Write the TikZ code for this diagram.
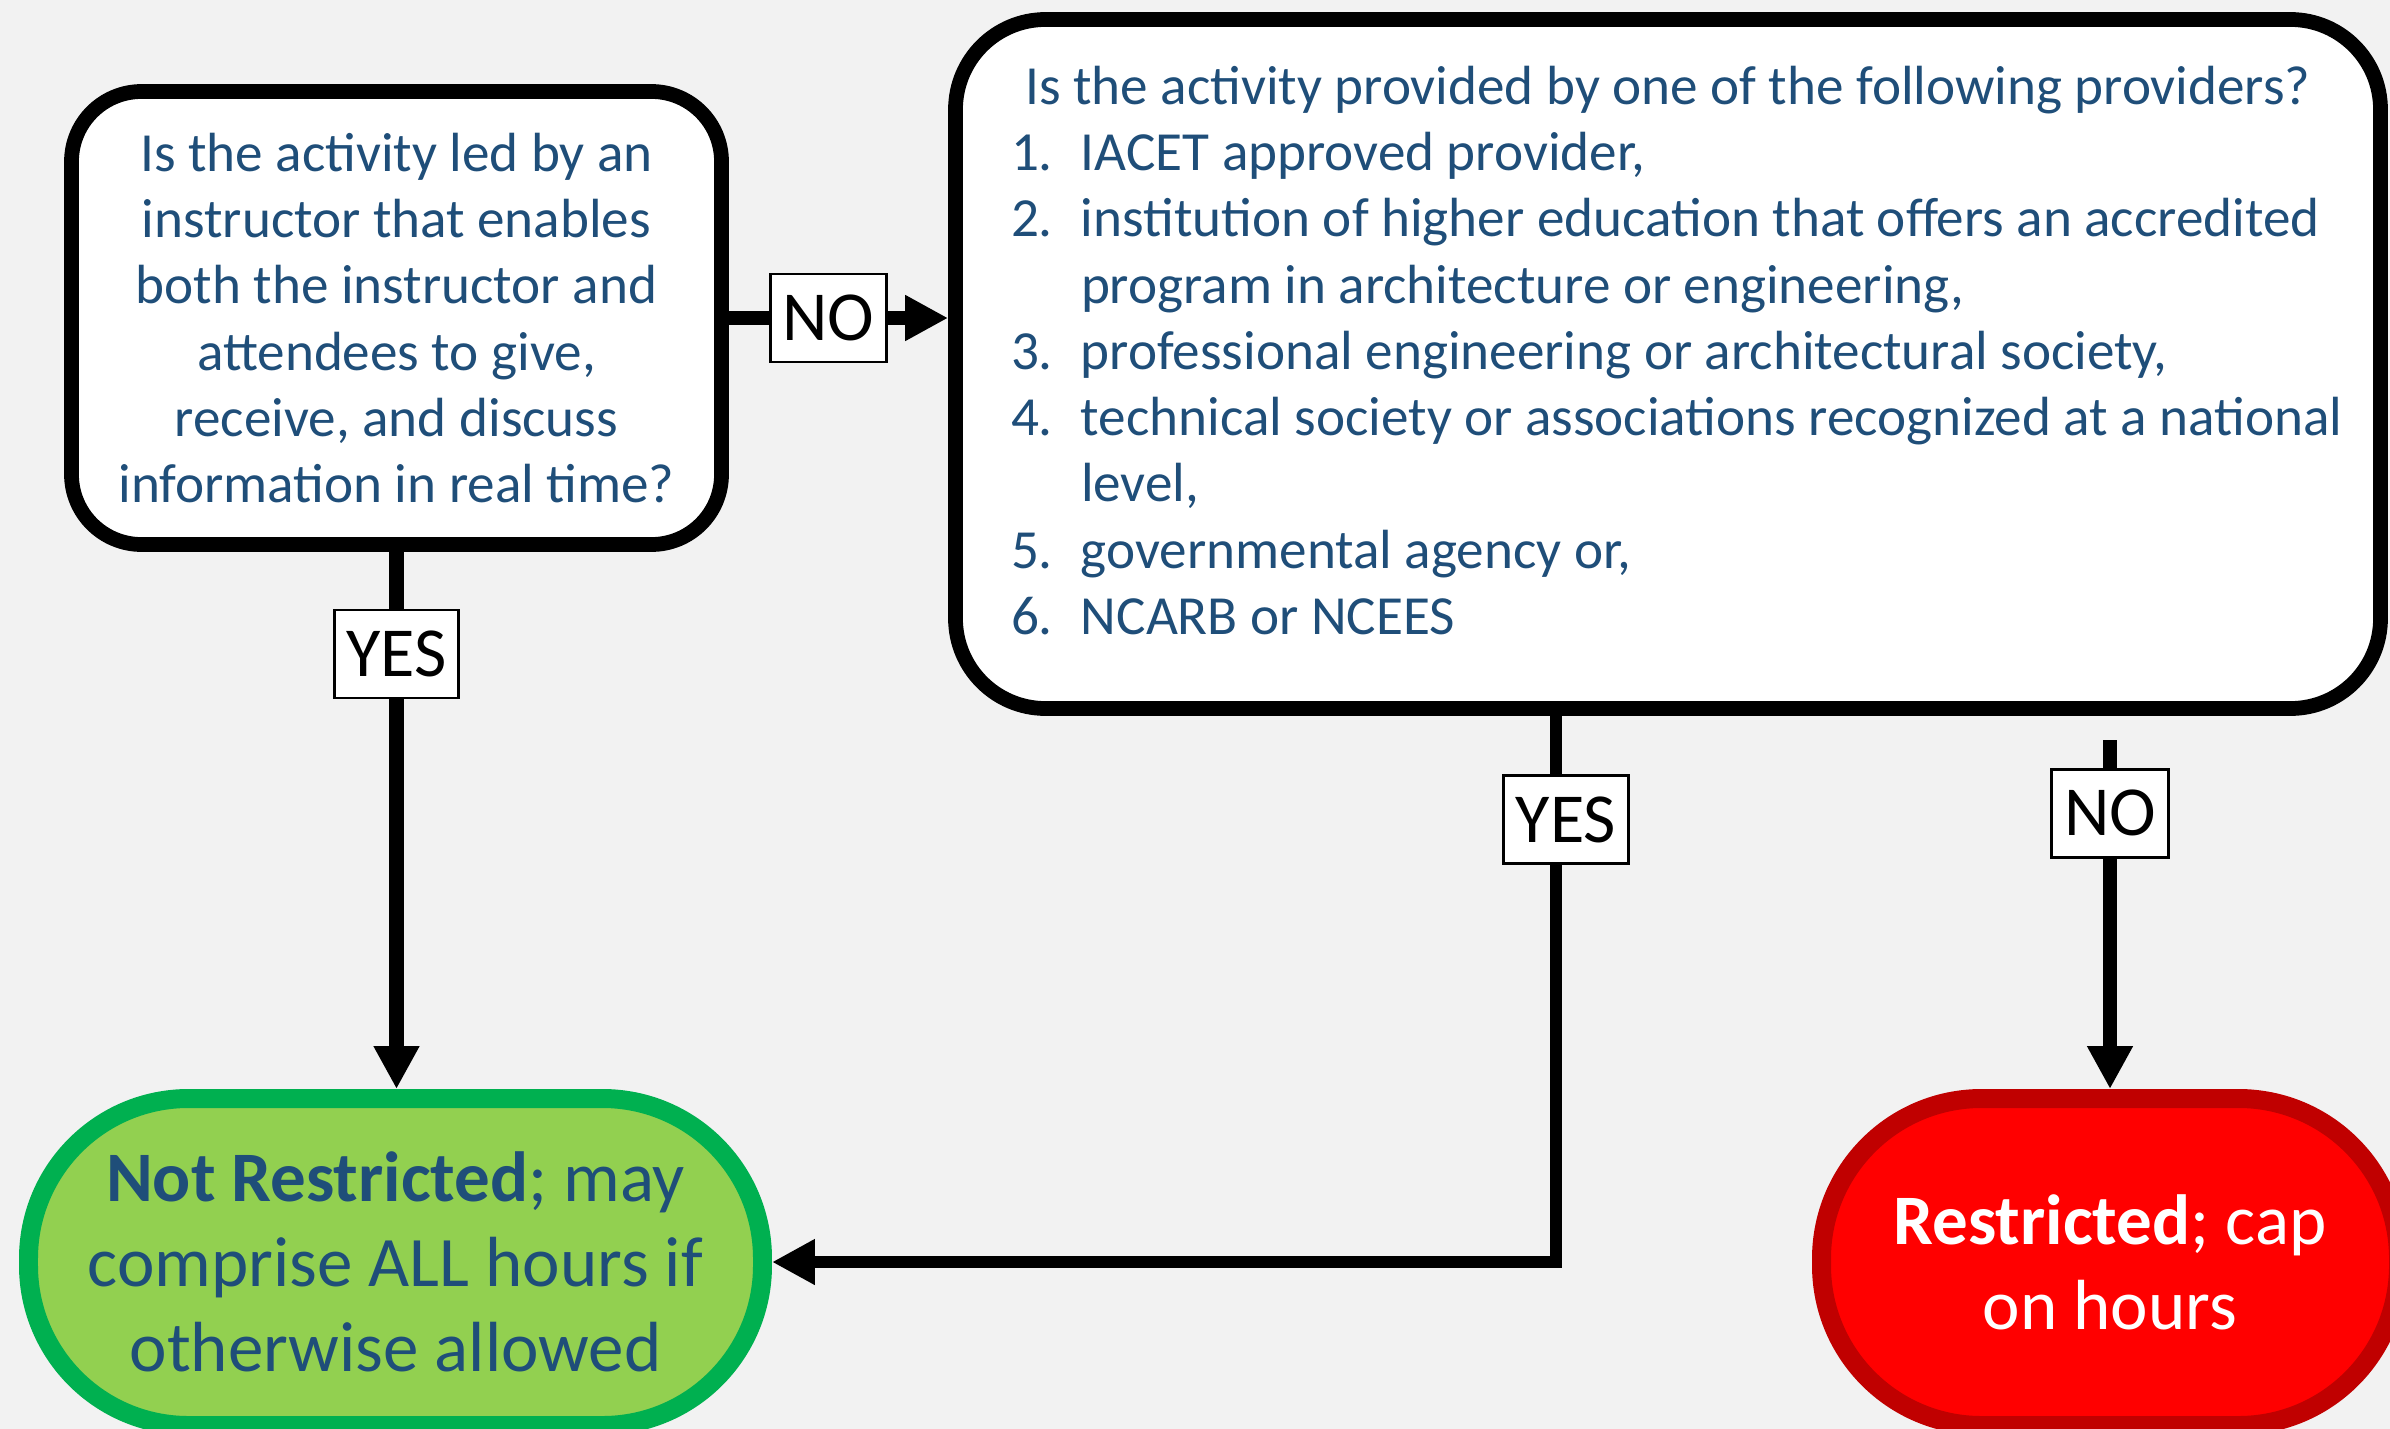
\documentclass[tikz,border=0pt]{standalone}
\usepackage{fontspec}
\setmainfont{Carlito}
\usetikzlibrary{arrows.meta}

\definecolor{pageGray}{HTML}{F2F2F2}
\definecolor{askBlue}{HTML}{1F4E79}
\definecolor{passGreen}{HTML}{00B050}
\definecolor{passFill}{HTML}{92D050}
\definecolor{failRed}{HTML}{C00000}
\definecolor{failFill}{HTML}{FF0000}

\begin{document}
\begin{tikzpicture}[
    ask/.style={draw=black, line width=4.2pt, fill=white, text=askBlue,
        font=\fontsize{15.7}{18.85}\selectfont},
    reply/.style={draw=black, line width=0.8pt, fill=white, text=black,
        inner xsep=3.5pt, inner ysep=0pt, minimum height=0.88cm,
        font=\fontsize{20}{24}\selectfont},
    outcome/.style={line width=5.4pt, rounded corners=1.6cm, align=center,
        minimum height=3.27cm, font=\fontsize{20.2}{24.1}\selectfont},
    link/.style={line width=4pt, -{Triangle[length=0.43cm,width=0.43cm]}},
]
    \useasboundingbox (0,0) rectangle (23.9,-14.29);
    \clip (0,0) rectangle (23.9,-14.29);
    \fill[pageGray] (0,0) rectangle (23.9,-14.29);

    % questions
    \node[ask, rounded corners=0.7cm, minimum width=6.50cm, minimum height=4.53cm,
        align=center] (q1) at (3.965,-3.18)
        {Is the activity led by an\\ instructor that enables\\ both the instructor and\\
         attendees to give,\\ receive, and discuss\\ information in real time?};
    \node[ask, rounded corners=0.9cm, minimum width=14.25cm, minimum height=6.89cm]
        (q2) at (16.68,-3.64) {%
        \begin{minipage}[c][5.96cm][t]{13.14cm}
            \centering Is the activity provided by one of the following providers?\par
            \raggedright
            \mbox{\makebox[0.7cm][l]{1.}IACET approved provider,}\par
            \mbox{\makebox[0.7cm][l]{2.}institution of higher education that offers an accredited}\par
            \mbox{\hspace*{0.7cm}program in architecture or engineering,}\par
            \mbox{\makebox[0.7cm][l]{3.}professional engineering or architectural society,}\par
            \mbox{\makebox[0.7cm][l]{4.}technical society or associations recognized at a national}\par
            \mbox{\hspace*{0.7cm}level,}\par
            \mbox{\makebox[0.7cm][l]{5.}governmental agency or,}\par
            \mbox{\makebox[0.7cm][l]{6.}NCARB or NCEES}\par
        \end{minipage}};

    % outcomes
    \node[outcome, draw=passGreen, fill=passFill, text=askBlue, minimum width=7.34cm]
        (g) at (3.955,-12.62)
        {\textbf{Not Restricted}; may\\ comprise ALL hours if\\ otherwise allowed};
    \node[outcome, draw=failRed, fill=failFill, text=white, minimum width=5.77cm]
        (r) at (21.10,-12.62)
        {\textbf{Restricted}; cap\\ on hours};

    \coordinate (bend) at (15.56,-12.62);
    \coordinate (noTop) at (21.10,-7.40);

    % connectors
    \draw[link] (q1.east) -- node[reply, xshift=-0.1cm] {NO} (q1.east -| q2.west);
    \draw[link] (q1.south) -- node[reply, pos=0.19] {YES} (q1.south |- g.north);
    \draw[link, line width=3.3pt] (q2.south -| bend) -- node[reply, pos=0.19, xshift=0.1cm] {YES} (bend) -- (g.east);
    \draw[link] (noTop) -- node[reply, pos=0.21] {NO} (r.north);
\end{tikzpicture}
\end{document}
